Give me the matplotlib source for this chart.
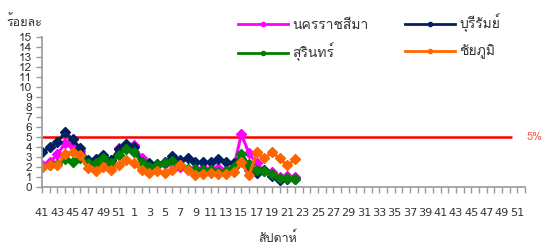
import matplotlib
matplotlib.use('Agg')
import matplotlib.pyplot as plt
from matplotlib import font_manager

# ใช้ Loma (คล้าย Tahoma) ถ้ามี
installed = {f.name for f in font_manager.fontManager.ttflist}
thai_font = 'Loma' if 'Loma' in installed else 'Noto Sans Thai Looped'
plt.rcParams['font.family'] = [thai_font, 'DejaVu Sans']

# สัปดาห์ 41-52 ปีก่อน แล้ว 1-52
weeks = list(range(41, 53)) + list(range(1, 53))

nakhon = [2.2, 2.5, 3.3, 4.4, 4.1, 3.6, 2.5, 2.3, 2.8, 2.2, 3.9, 4.0, 4.2, 2.9, 2.2, 2.2, 2.3,
          2.4, 2.0, 1.8, 1.8, 1.9, 1.8, 1.9, 1.7, 2.0, 5.3, 3.4, 2.4, 1.6, 1.5, 1.0, 1.1, 1.0]
buriram = [3.5, 4.0, 4.5, 5.5, 4.8, 3.9, 2.7, 2.8, 3.2, 2.7, 3.8, 4.3, 4.0, 2.5, 2.4, 2.3, 2.5,
           3.1, 2.7, 2.9, 2.5, 2.5, 2.5, 2.8, 2.5, 2.4, 2.8, 1.7, 1.4, 1.7, 1.1, 0.7, 0.8, 0.8]
surin = [2.0, 2.2, 2.3, 2.8, 2.5, 2.9, 2.4, 2.4, 2.9, 2.4, 3.2, 3.8, 3.5, 2.5, 2.0, 2.2, 2.4,
         2.6, 2.2, 1.8, 1.8, 1.7, 1.7, 1.5, 1.6, 2.0, 3.3, 2.3, 1.7, 1.6, 1.3, 0.9, 0.9, 0.8]
chaiyaphum = [2.0, 2.2, 2.2, 3.3, 3.5, 3.2, 1.9, 1.6, 2.0, 1.7, 2.2, 2.7, 2.4, 1.7, 1.4, 1.6, 1.4,
              1.7, 2.2, 1.7, 1.2, 1.3, 1.4, 1.3, 1.3, 1.5, 2.5, 1.2, 3.5, 2.9, 3.5, 2.9, 2.2, 2.8]
threshold = 5

fig = plt.figure(figsize=(5.47, 2.49), dpi=100)
ax = fig.add_axes([0.0768, 0.247, 0.883, 0.604])

ax.hlines(threshold, 0, 61.3, color='#FF0000', lw=1.8, zorder=1)
ax.text(1.004, threshold, '5%', transform=ax.get_yaxis_transform(), color='#FF5555',
        fontsize=8, va='center', ha='left')

series = [('นครราชสีมา', nakhon, '#FF00FF'),
          ('บุรีรัมย์', buriram, '#002060'),
          ('สุรินทร์', surin, '#008000'),
          ('ชัยภูมิ', chaiyaphum, '#FF6600')]
lines = {}
for name, vals, col in series:
    x = list(range(len(vals)))
    l, = ax.plot(x, vals, color=col, lw=2.2, marker='D', ms=5, label=name, zorder=2)
    lines[name] = l

ax.set_xlim(0, len(weeks) - 1)
ax.set_ylim(0, 15)
ax.set_yticks(range(0, 16))
ax.set_xticks(range(len(weeks)))
ax.set_xticklabels([str(w) if i % 2 == 0 else '' for i, w in enumerate(weeks)])
ax.tick_params(axis='both', colors='#999999', labelcolor='#333333', length=4, width=1)
ax.tick_params(axis='x', pad=11, labelsize=8.1)
ax.tick_params(axis='y', pad=3, labelsize=8.5)
for lab in ax.get_xticklabels():
    lab.set_family('DejaVu Sans')
for s in ['top', 'right']:
    ax.spines[s].set_visible(False)
for s in ['left', 'bottom']:
    ax.spines[s].set_color('#999999')
    ax.spines[s].set_linewidth(1.2)

ax.set_xlabel('สัปดาห์', fontsize=9, color='#333333', va='center')
ax.xaxis.set_label_coords(0.487, -0.337)
fig.text(0.012, 0.91, 'ร้อยละ', fontsize=9, color='#333333', ha='left', va='center')

order = ['นครราชสีมา', 'สุรินทร์', 'บุรีรัมย์', 'ชัยภูมิ']
leg_lines = []
for name in order:
    l = lines[name]
    h, = ax.plot([], [], color=l.get_color(), lw=2, marker='o', ms=3)
    leg_lines.append(h)
fig.legend(leg_lines, order, ncol=2, loc='upper left', bbox_to_anchor=(0.413, 0.995),
           frameon=False, fontsize=10, handlelength=3.6, columnspacing=2.6,
           labelspacing=0.85, handletextpad=0.3, labelcolor='#333333')

fig.savefig('out.png', dpi=100)
